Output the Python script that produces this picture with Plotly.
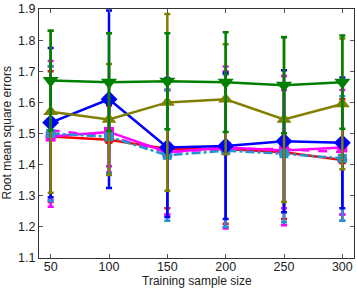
import plotly.graph_objects as go

x_sizes = [50, 100, 150, 200, 250, 300]

red_mean = [1.490, 1.480, 1.450, 1.450, 1.440, 1.415]
red_err = [0.210, 0.110, 0.190, 0.240, 0.215, 0.195]

mag_mean = [1.490, 1.505, 1.440, 1.455, 1.445, 1.455]
mag_err = [0.225, 0.110, 0.200, 0.260, 0.240, 0.215]

magd_mean = [1.510, 1.490, 1.440, 1.450, 1.450, 1.440]
magd_err = [0.223, 0.115, 0.200, 0.250, 0.190, 0.200]

cyan_mean = [1.500, 1.490, 1.430, 1.445, 1.435, 1.420]
cyan_err = [0.217, 0.118, 0.210, 0.245, 0.220, 0.200]

blue_mean = [1.535, 1.610, 1.455, 1.460, 1.475, 1.470]
blue_err = [0.240, 0.285, 0.223, 0.235, 0.228, 0.210]

olive_mean = [1.570, 1.545, 1.600, 1.610, 1.545, 1.595]
olive_err = [0.260, 0.178, 0.284, 0.177, 0.265, 0.210]

green_mean = [1.670, 1.665, 1.668, 1.665, 1.655, 1.665]
green_err = [0.160, 0.157, 0.154, 0.160, 0.154, 0.150]

x_title = "Training sample size"
y_title = "Root mean square errors"

series = [
    (red_mean, red_err, "#ff0000", "solid", "circle", 10),
    (mag_mean, mag_err, "#ff00ff", "solid", "square", 10),
    (magd_mean, magd_err, "#ff00ff", "dash", "square", 1),
    (cyan_mean, cyan_err, "#1e96d2", "dashdot", "square", 9),
    (blue_mean, blue_err, "#0000ff", "solid", "diamond", 13),
    (olive_mean, olive_err, "#808000", "solid", "triangle-up", 13),
    (green_mean, green_err, "#008000", "solid", "triangle-down", 14),
]

fig = go.Figure()
for m, e, c, dash, sym, ms in series:
    fig.add_trace(go.Scatter(
        x=x_sizes, y=m, mode="lines+markers",
        line=dict(color=c, width=2.5, dash=dash),
        marker=dict(symbol=sym, size=ms, color=c),
        error_y=dict(type="data", array=e, visible=True, color=c, thickness=2.5, width=3),
        showlegend=False,
    ))

font_main = dict(family="Liberation Sans, Arial", size=12.5, color="#222222")

axis_common = dict(
    showline=True, linecolor="#333333", linewidth=1, mirror="allticks",
    ticks="inside", ticklen=4, tickcolor="#555555", showgrid=False, zeroline=False,
    tickfont=font_main, automargin=False,
)

fig.update_layout(
    width=357, height=290,
    margin=dict(l=39, r=3, t=9, b=32, autoexpand=False),
    plot_bgcolor="white", paper_bgcolor="white",
    xaxis=dict(range=[40, 310], tickvals=x_sizes, ticklabelstandoff=-3, **axis_common),
    yaxis=dict(range=[1.1, 1.9], dtick=0.1, tickformat=".1f", **axis_common),
    annotations=[
        dict(text=x_title, xref="paper", yref="paper", x=0.5, y=0, yshift=-32,
             xanchor="center", yanchor="bottom", showarrow=False,
             font=dict(family="Liberation Sans, Arial", size=12, color="#222222")),
        dict(text=y_title, xref="paper", yref="paper", x=0, y=0.5, xshift=-24,
             xanchor="right", yanchor="middle", textangle=-90, showarrow=False,
             font=dict(family="Liberation Sans, Arial", size=12, color="#222222")),
    ],
)

fig.write_html("out.html", config={"displayModeBar": False},
               post_script="document.body.style.margin='0';document.body.style.overflow='hidden';")
